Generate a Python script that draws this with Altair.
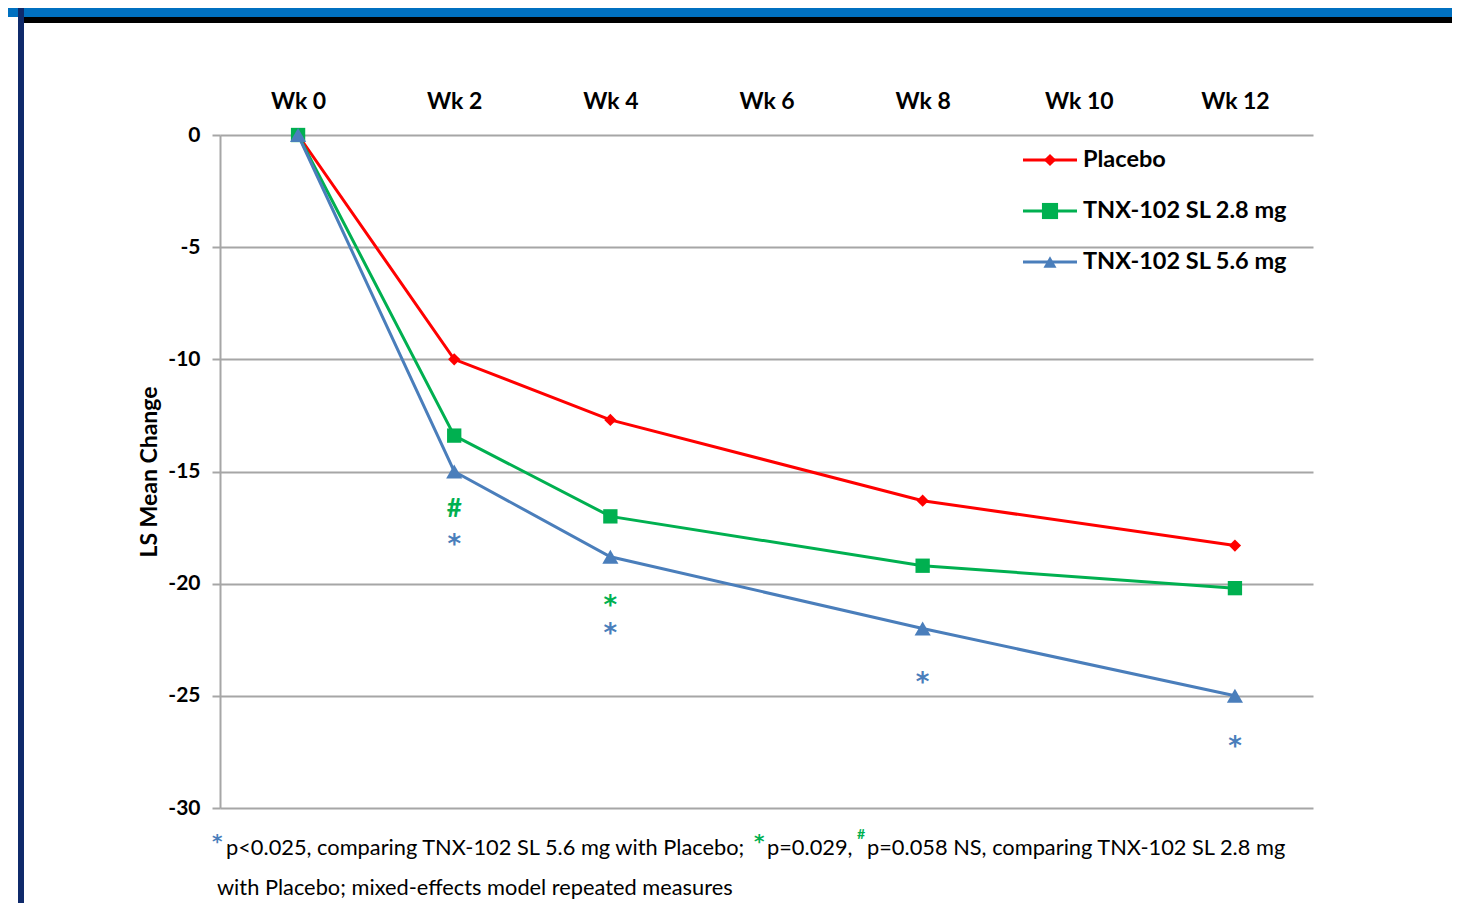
import altair as alt
import pandas as pd

# ---- data ----
weeks = [0, 2, 4, 8, 12]
series_names = ["Placebo", "TNX-102 SL 2.8 mg", "TNX-102 SL 5.6 mg"]
placebo = [0, -10.0, -12.7, -16.3, -18.3]
tnx28 = [0, -13.4, -17.0, -19.2, -20.2]
tnx56 = [0, -15.0, -18.8, -22.0, -25.0]
colors = ["#FF0000", "#00B050", "#4A7EBB"]
shapes = ["diamond", "square", "triangle-up"]
tick_weeks = [0, 2, 4, 6, 8, 10, 12]
y_ticks = [0, -5, -10, -15, -20, -25, -30]

# significance markers: week, y position, symbol, series
ann_week = [2, 2, 4, 4, 8, 12]
ann_y = [-16.65, -18.05, -20.75, -22.0, -24.2, -27.05]
ann_sym = ["#", "*", "*", "*", "*", "*"]
ann_series = ["TNX-102 SL 2.8 mg", "TNX-102 SL 5.6 mg", "TNX-102 SL 2.8 mg",
              "TNX-102 SL 5.6 mg", "TNX-102 SL 5.6 mg", "TNX-102 SL 5.6 mg"]

FONT = "Lato"
SYMFONT = "DejaVu Sans"
W, H = 1093, 673

rows = []
for name, vals in zip(series_names, [placebo, tnx28, tnx56]):
    for w, v in zip(weeks, vals):
        rows.append({"week": w, "value": v, "series": name})
df = pd.DataFrame(rows)
ann = pd.DataFrame({"week": ann_week, "value": ann_y, "sym": ann_sym, "series": ann_series})
ann_hash = ann[ann["sym"] == "#"]
ann_star = ann[ann["sym"] == "*"]

color_scale = alt.Scale(domain=series_names, range=colors)
shape_scale = alt.Scale(domain=series_names, range=shapes)

x_enc = alt.X("week:Q", scale=alt.Scale(domain=[-1, 13], nice=False),
              axis=alt.Axis(orient="top", values=tick_weeks, labelExpr="'Wk ' + datum.value",
                            grid=False, ticks=False, domain=False, title=None,
                            labelFont=FONT, labelFontSize=23, labelFontWeight="bold",
                            labelColor="#000000", labelPadding=22))
y_enc = alt.Y("value:Q", scale=alt.Scale(domain=[-30, 0], nice=False, zero=False),
              axis=alt.Axis(values=y_ticks, labelExpr="'' + datum.value",
                            grid=True, gridColor="#A6A6A6", gridWidth=2,
                            domain=True, domainColor="#A6A6A6", domainWidth=2,
                            ticks=True, tickSize=8, tickColor="#A6A6A6", tickWidth=2,
                            labelFont=FONT, labelFontSize=21, labelFontWeight="bold",
                            labelColor="#000000", labelPadding=12,
                            title="LS Mean Change", titleFont=FONT, titleFontSize=23,
                            titleFontWeight="bold", titleColor="#000000", titlePadding=6))

base = alt.Chart(df)
lines = base.mark_line(strokeWidth=3).encode(
    x=x_enc, y=y_enc,
    color=alt.Color("series:N", scale=color_scale, legend=None),
    detail="series:N")
points = base.mark_point(filled=True, opacity=1).encode(
    x="week:Q", y="value:Q",
    color=alt.Color("series:N", scale=color_scale, legend=None),
    shape=alt.Shape("series:N", scale=shape_scale, legend=None),
    size=alt.Size("series:N", scale=alt.Scale(domain=series_names, range=[150, 260, 170]), legend=None))

hashes = alt.Chart(ann_hash).mark_text(font=FONT, fontSize=26, fontWeight="bold", baseline="middle").encode(
    x="week:Q", y="value:Q", text="sym:N",
    color=alt.Color("series:N", scale=color_scale, legend=None))
stars = alt.Chart(ann_star).mark_text(font=SYMFONT, fontSize=26, fontWeight="bold", baseline="middle",
                                      dy=5.5).encode(
    x="week:Q", y="value:Q", text="sym:N",
    color=alt.Color("series:N", scale=color_scale, legend=None))

# ---- legend (drawn manually) ----
one = pd.DataFrame({"a": [0]})
legend_layers = []
for i, (name, c, s, sz) in enumerate(zip(series_names, colors, shapes, [150, 260, 170])):
    yy = 25 + 51 * i
    legend_layers.append(alt.Chart(one).mark_rule(color=c, strokeWidth=3).encode(
        x=alt.value(803), x2=alt.value(857), y=alt.value(yy)))
    legend_layers.append(alt.Chart(one).mark_point(filled=True, opacity=1, color=c, shape=s, size=sz).encode(
        x=alt.value(830), y=alt.value(yy)))
    legend_layers.append(alt.Chart(one).mark_text(text=name, font=FONT, fontSize=23.5, fontWeight="bold",
                                                  align="left", baseline="middle", color="#000000").encode(
        x=alt.value(863), y=alt.value(yy)))

# ---- frame decorations ----
deco = [
    alt.Chart(one).mark_rect(color="#0070C0").encode(
        x=alt.value(-212), x2=alt.value(W + 140), y=alt.value(-127), y2=alt.value(-118)),
    alt.Chart(one).mark_rect(color="#000000").encode(
        x=alt.value(-196), x2=alt.value(W + 140), y=alt.value(-118), y2=alt.value(-112)),
    alt.Chart(one).mark_rect(color="#0F2A6B").encode(
        x=alt.value(-202), x2=alt.value(-196), y=alt.value(-127), y2=alt.value(H + 100)),
]

# ---- footnote ----
FN = 21.8
fy1 = 848 - 135
fy2 = 888 - 135
foot = [
    alt.Chart(one).mark_text(text="*", font=SYMFONT, fontSize=20, fontWeight="bold", color="#4A7EBB",
                             align="left", baseline="middle").encode(x=alt.value(-8), y=alt.value(fy1 - 6)),
    alt.Chart(one).mark_text(text="p<0.025, comparing TNX-102 SL 5.6 mg with Placebo;", font=FONT, fontSize=FN,
                             color="#000000", align="left", baseline="middle").encode(x=alt.value(6), y=alt.value(fy1)),
    alt.Chart(one).mark_text(text="*", font=SYMFONT, fontSize=20, fontWeight="bold", color="#00B050",
                             align="left", baseline="middle").encode(x=alt.value(534), y=alt.value(fy1 - 6)),
    alt.Chart(one).mark_text(text="p=0.029,", font=FONT, fontSize=FN,
                             color="#000000", align="left", baseline="middle").encode(x=alt.value(547), y=alt.value(fy1)),
    alt.Chart(one).mark_text(text="#", font=FONT, fontSize=14, fontWeight="bold", color="#00B050",
                             align="left", baseline="middle").encode(x=alt.value(637), y=alt.value(fy1 - 13)),
    alt.Chart(one).mark_text(text="p=0.058 NS, comparing TNX-102 SL 2.8 mg", font=FONT, fontSize=FN,
                             color="#000000", align="left", baseline="middle").encode(x=alt.value(647), y=alt.value(fy1)),
    alt.Chart(one).mark_text(text="with Placebo; mixed-effects model repeated measures", font=FONT, fontSize=FN,
                             color="#000000", align="left", baseline="middle").encode(x=alt.value(-3), y=alt.value(fy2)),
]

chart = alt.layer(lines, points, hashes, stars, *legend_layers, *deco, *foot).properties(
    width=W, height=H,
    autosize=alt.AutoSizeParams(type="none"),
    padding={"left": 212, "top": 127, "right": 139, "bottom": 95},
    background="#FFFFFF",
).configure_view(stroke=None)

chart.save("out.html", embed_options={"renderer": "svg", "actions": False})
